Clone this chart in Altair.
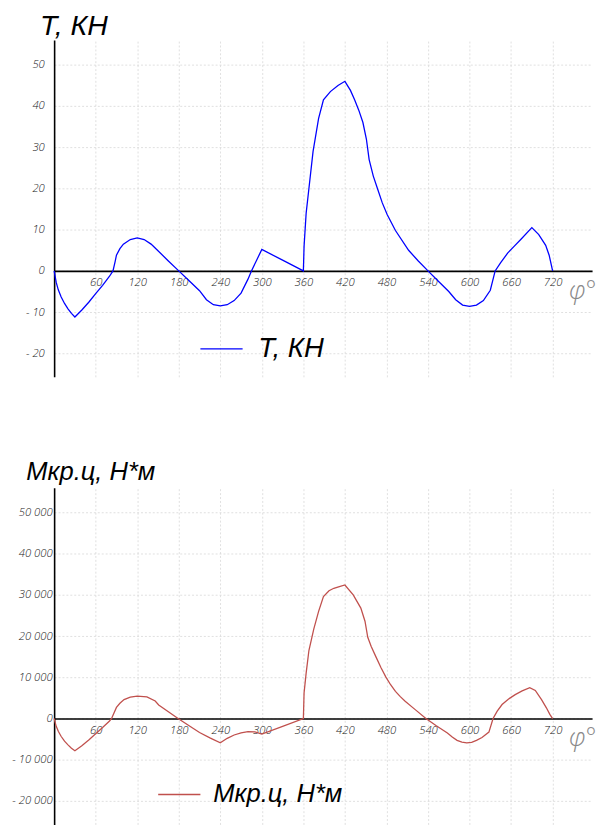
import altair as alt
import pandas as pd

# ---- data ----
phi_T = [0, 3, 6, 10, 15, 20, 25, 30, 40, 50, 60, 70, 80, 85, 88, 90, 95, 100, 110, 120,
         130, 140, 150, 165, 180, 195, 210, 220, 230, 240, 250, 260, 270, 280, 285, 300,
         330, 360, 361, 364, 368, 374, 382, 389, 399, 410, 420, 428, 434, 440, 446, 451,
         455, 461, 467, 474, 481, 493, 512, 526, 540, 555, 570, 580, 590, 600, 610, 620,
         630, 637, 645, 655, 664, 675, 690, 700, 710, 715, 720]
T_vals = [0, -2.8, -4.6, -6.3, -7.9, -9.2, -10.3, -11.2, -9.5, -7.6, -5.5, -3.5, -1.3, 0, 2.2,
          3.8, 5.4, 6.5, 7.6, 8.0, 7.6, 6.5, 4.9, 2.4, 0, -2.4, -4.8, -7.0, -8.2, -8.5, -8.2,
          -7.2, -5.4, -2.0, 0, 5.2, 2.6, 0, 6.0, 14.0, 20.0, 29.0, 37.0, 41.5, 43.5, 45.0,
          46.0, 43.8, 41.5, 39.0, 36.0, 32.0, 27.0, 23.0, 20.0, 16.5, 13.7, 9.8, 5.0, 2.4,
          0, -2.5, -5.0, -7.0, -8.3, -8.6, -8.3, -7.2, -4.7, 0, 2.0, 4.3, 5.9, 7.8, 10.5,
          8.8, 6.2, 3.8, 0]

phi_M = [0, 3, 6, 10, 15, 20, 25, 30, 40, 50, 60, 70, 80, 83, 90, 95, 101, 110, 120, 134,
         146, 151, 165, 179, 195, 210, 225, 240, 250, 260, 270, 280, 290, 300, 330, 360,
         361, 364, 368, 375, 382, 389, 397, 404, 412, 420, 432, 443, 449, 453, 458, 465,
         472, 479, 486, 493, 500, 507, 522, 537, 552, 568, 575, 582, 589, 596, 603, 610,
         618, 628, 634, 640, 647, 656, 666, 676, 687, 695, 704, 711, 716, 720]
M_vals = [0, -1900, -3100, -4300, -5500, -6400, -7200, -7800, -6600, -5200, -3700, -2200,
          -600, 0, 2700, 3700, 4600, 5200, 5450, 5250, 4250, 3300, 1650, 0, -1750, -3400,
          -4700, -5900, -4800, -4000, -3500, -3200, -3250, -3800, -1900, 0, 6200, 11000,
          16500, 21700, 26000, 29600, 31000, 31600, 32000, 32400, 30000, 26800, 23600,
          19700, 17500, 14900, 12400, 10100, 8200, 6600, 5300, 4200, 2100, 0, -1750, -3500,
          -4500, -5300, -5700, -5900, -5800, -5300, -4600, -3300, 0, 1800, 3400, 4700, 5800,
          6700, 7500, 6800, 4600, 2600, 1000, 0]

x_ticks = [60, 120, 180, 240, 300, 360, 420, 480, 540, 600, 660, 720]
x_grid = [0, 60, 120, 180, 240, 300, 360, 420, 480, 540, 600, 660, 720]
T_ticks = [-20, -10, 0, 10, 20, 30, 40, 50]
M_ticks = [-20000, -10000, 0, 10000, 20000, 30000, 40000, 50000]

T_label = "T, КН"
M_label = "Мкр.ц, Н*м"
x_title = "φ°"

W, H = 548, 343
X_DOM = [0, 777]
T_DOM = [-25.7, 56]
M_DOM = [-25700, 56000]

FONT = "Liberation Sans"
TICKFONT = "Open Sans"


def panel(phi, vals, label, color, ydom, yticks, label_expr, ylabpad, title_x, title_y,
          title_size, legx, legy, symlen, leg_size, leg_off):
    df = pd.DataFrame({"phi": phi, "v": vals, "s": label})
    zero_off = -H * (0 - ydom[0]) / (ydom[1] - ydom[0])
    xs = alt.Scale(domain=X_DOM, nice=False, zero=False)
    ys = alt.Scale(domain=ydom, nice=False, zero=False)

    grid = alt.Chart(df).mark_line(opacity=0).encode(
        x=alt.X("phi:Q", scale=xs,
                axis=alt.Axis(orient="top", values=x_grid, grid=True, gridColor="#d8d8d8",
                              gridDash=[2, 2], gridWidth=0.8, labels=False, ticks=False,
                              domain=False, title=None)),
        y=alt.Y("v:Q", scale=ys,
                axis=alt.Axis(values=yticks, grid=True, gridColor="#d8d8d8", gridDash=[2, 2],
                              gridWidth=0.8, ticks=False, domainColor="black",
                              domainWidth=1.6, labelExpr=label_expr, labelFont=TICKFONT,
                              labelFontStyle="italic", labelFontWeight=300, labelFontSize=11.5,
                              labelColor="#222", labelPadding=ylabpad, title=label,
                              titleAngle=0, titleAlign="left", titleBaseline="alphabetic",
                              titleX=title_x, titleY=title_y, titleFont=FONT,
                              titleFontStyle="italic", titleFontWeight="normal",
                              titleFontSize=title_size, titleColor="black")),
    )

    line = alt.Chart(df).mark_line(strokeWidth=1.3, interpolate="linear").encode(
        x=alt.X("phi:Q", scale=xs,
                axis=alt.Axis(orient="bottom", values=x_ticks, grid=False, ticks=False,
                              offset=zero_off, domainColor="black", domainWidth=1.6,
                              labelFont=TICKFONT, labelFontStyle="italic", labelFontWeight=300,
                              labelFontSize=11.5, labelColor="#222", labelPadding=6,
                              title=x_title, titleX=W - 10, titleY=28, titleAlign="center",
                              titleBaseline="alphabetic", titleFont=TICKFONT,
                              titleFontStyle="italic", titleFontWeight=300,
                              titleFontSize=26, titleColor="#8a8a8a")),
        y=alt.Y("v:Q", scale=ys, axis=None),
        color=alt.Color("s:N", scale=alt.Scale(domain=[label], range=[color]),
                        legend=alt.Legend(orient="none", legendX=legx, legendY=legy,
                                          title=None, symbolType="stroke",
                                          symbolSize=symlen * symlen, symbolStrokeWidth=1.3,
                                          labelFont=FONT, labelFontStyle="italic",
                                          labelFontSize=leg_size, labelColor="black",
                                          labelOffset=leg_off, labelLimit=400)),
        order="phi:Q",
    )
    return alt.layer(grid, line).resolve_axis(x="independent", y="independent").properties(
        width=W, height=H)


t_expr = "datum.value < 0 ? '- ' + format(-datum.value, 'd') : format(datum.value, 'd')"
m_expr = ("datum.value < 0 ? '- ' + replace(format(-datum.value, ','), ',', ' ') : "
          "replace(format(datum.value, ','), ',', ' ')")

top = panel(phi_T, T_vals, T_label, "#0000ff", T_DOM, T_ticks, t_expr, 10, -15, -6, 29,
            148, 292, 43, 28, 15)
bottom = panel(phi_M, M_vals, M_label, "#c0504d", M_DOM, M_ticks, m_expr, 2, -29, -8, 26,
               105, 290, 43, 26, 12)

chart = alt.vconcat(top, bottom, spacing=113, bounds="flush").resolve_scale(
    color="independent"
).properties(
    padding={"left": 3, "top": -4, "right": 0, "bottom": 0}
).configure_view(stroke=None)

chart.save("out.html", embed_options={"renderer": "svg", "actions": False})
